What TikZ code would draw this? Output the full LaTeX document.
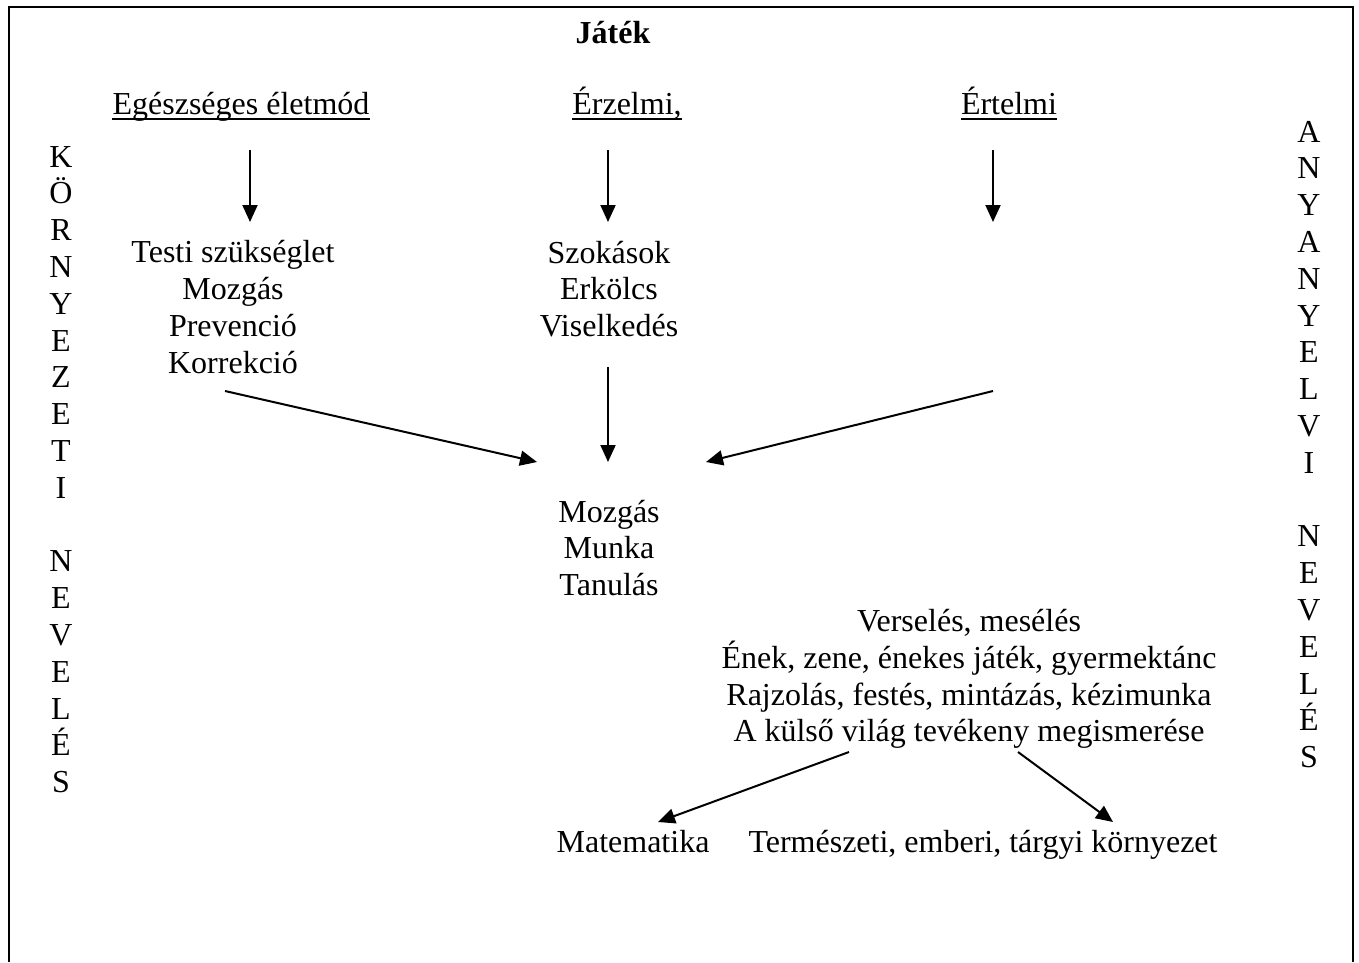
\documentclass[tikz,border=0pt]{standalone}
\usepackage{fontspec}
\setmainfont{Liberation Serif}
\usetikzlibrary{arrows.meta}
\tikzset{
  txt/.style={inner sep=0pt, align=center, font=\fontsize{32}{36.8}\selectfont},
  arr/.style={line width=2pt, -{Triangle[length=17pt,width=15pt]}},
  frame/.style={line width=2pt},
  uline/.style={line width=1.6pt}
}
\begin{document}
\begin{tikzpicture}[x=1pt,y=-1pt]
\useasboundingbox (0,0) rectangle (1359,962);
\draw[frame] (8.5,962) -- (8.5,6.5) -- (1353,6.5) -- (1353,962);

\node[txt, font=\fontsize{32}{36.8}\selectfont\bfseries] (jatek) at (613,33) {Játék};

\node[txt, anchor=base] (ege) at (241,114) {Egészséges életmód};
\node[txt, anchor=base] (erz) at (627,114) {Érzelmi,};
\node[txt, anchor=base] (ert) at (1009,114) {Értelmi};
\draw[uline] ([yshift=-5pt]ege.base west) -- ([yshift=-5pt]ege.base east);
\draw[uline] ([yshift=-5pt]erz.base west) -- ([yshift=-5pt]erz.base east);
\draw[uline] ([yshift=-5pt]ert.base west) -- ([yshift=-5pt]ert.base east);

\node[txt] (testi) at (233,307) {Testi szükséglet\\Mozgás\\Prevenció\\Korrekció};
\node[txt] (szok) at (609,289) {Szokások\\Erkölcs\\Viselkedés};
\node[txt] (mozg) at (609,548) {Mozgás\\Munka\\Tanulás};
\node[txt] (vers) at (969,679) {Verselés, mesélés\\Ének, zene, énekes játék, gyermektánc\\Rajzolás, festés, mintázás, kézimunka\\A külső világ tevékeny megismerése};
\node[txt, anchor=base] (mat) at (633,852) {Matematika};
\node[txt, anchor=base] (term) at (983,852) {Természeti, emberi, tárgyi környezet};

\node[txt] (left) at (61,469.5) {K\\Ö\\R\\N\\Y\\E\\Z\\E\\T\\I\\\strut\\N\\E\\V\\E\\L\\É\\S};
\node[txt] (right) at (1309,444.5) {A\\N\\Y\\A\\N\\Y\\E\\L\\V\\I\\\strut\\N\\E\\V\\E\\L\\É\\S};

\coordinate (s1) at (250,150); \coordinate (t1) at (250,222);
\coordinate (s2) at (608,150); \coordinate (t2) at (608,222);
\coordinate (s3) at (993,150); \coordinate (t3) at (993,222);
\coordinate (s4) at (225,391); \coordinate (t4) at (537,462);
\coordinate (s5) at (608,367); \coordinate (t5) at (608,462);
\coordinate (s6) at (993,391); \coordinate (t6) at (706,462);
\coordinate (s7) at (849,752); \coordinate (t7) at (658,822);
\coordinate (s8) at (1018,752); \coordinate (t8) at (1113,822);
\foreach \i in {1,...,8} {\draw[arr] (s\i) -- (t\i);}
\end{tikzpicture}
\end{document}
